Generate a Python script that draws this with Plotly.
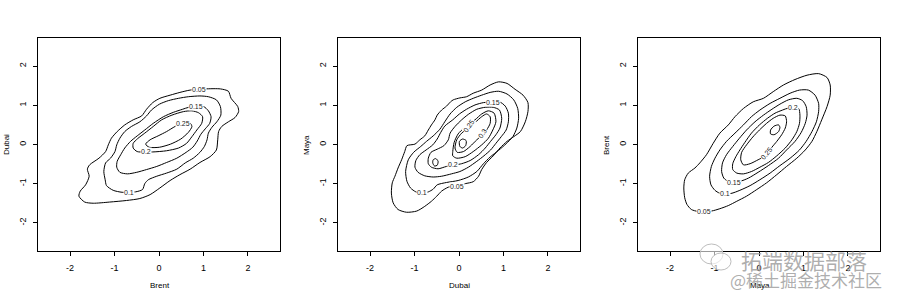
import plotly.graph_objects as go

# ---------------- data ----------------
x_titles = ["Brent", "Dubai", "Maya"]
y_titles = ["Dubai", "Maya", "Brent"]
tick_vals = [-2, -1, 0, 1, 2]
tick_text = ["-2", "-1", "0", "1", "2"]

# Panel 1: Brent (x) vs Dubai (y) -- density contour lines
p1_c005 = [(0.70, 1.39), (1.04, 1.42), (1.38, 1.42), (1.56, 1.36), (1.62, 1.18), (1.77, 0.97),
           (1.79, 0.84), (1.71, 0.69), (1.56, 0.58), (1.41, 0.46), (1.34, 0.33), (1.32, 0.12),
           (1.29, -0.14), (1.15, -0.31), (0.92, -0.46), (0.70, -0.63), (0.47, -0.77), (0.25, -0.92),
           (0.02, -1.11), (-0.20, -1.28), (-0.43, -1.38), (-0.73, -1.43), (-1.11, -1.47),
           (-1.48, -1.50), (-1.67, -1.47), (-1.80, -1.32), (-1.77, -1.19), (-1.65, -1.03),
           (-1.57, -0.81), (-1.61, -0.63), (-1.56, -0.52), (-1.35, -0.35), (-1.20, -0.18),
           (-1.14, -0.01), (-1.07, 0.16), (-0.94, 0.33), (-0.77, 0.50), (-0.58, 0.63), (-0.39, 0.73),
           (-0.28, 0.90), (-0.14, 1.07), (0.02, 1.18), (0.25, 1.26), (0.47, 1.33)]
p1_c010 = [(-0.53, -1.21), (-0.37, -1.15), (-0.32, -1.00), (-0.24, -0.90), (-0.05, -0.81),
           (0.17, -0.73), (0.40, -0.63), (0.59, -0.47), (0.77, -0.35), (0.92, -0.20), (1.02, -0.05),
           (1.08, 0.12), (1.11, 0.29), (1.19, 0.44), (1.30, 0.58), (1.39, 0.75), (1.38, 0.97),
           (1.29, 1.14), (1.11, 1.22), (0.92, 1.24), (0.66, 1.22), (0.44, 1.18), (0.21, 1.12),
           (0.01, 1.03), (-0.17, 0.88), (-0.28, 0.73), (-0.43, 0.58), (-0.62, 0.46), (-0.77, 0.33),
           (-0.88, 0.16), (-0.95, -0.01), (-0.99, -0.18), (-1.09, -0.35), (-1.20, -0.47),
           (-1.24, -0.69), (-1.21, -0.90), (-1.18, -1.05), (-1.03, -1.17), (-0.83, -1.22)]
p1_c015 = [(1.00, 0.97), (1.11, 0.86), (1.17, 0.71), (1.14, 0.54), (1.04, 0.40), (0.94, 0.26),
           (0.86, 0.09), (0.76, -0.07), (0.61, -0.20), (0.40, -0.35), (0.17, -0.46), (-0.05, -0.56),
           (-0.28, -0.64), (-0.50, -0.71), (-0.71, -0.75), (-0.88, -0.71), (-0.95, -0.58),
           (-0.94, -0.43), (-0.86, -0.26), (-0.77, -0.09), (-0.64, 0.08), (-0.49, 0.22),
           (-0.32, 0.37), (-0.13, 0.54), (0.10, 0.71), (0.32, 0.82), (0.53, 0.90), (0.67, 0.95)]
p1_c020 = [(-0.14, -0.19), (0.17, -0.16), (0.44, -0.09), (0.62, 0.03), (0.74, 0.20), (0.85, 0.37),
           (0.96, 0.54), (0.98, 0.71), (0.89, 0.81), (0.74, 0.86), (0.55, 0.84), (0.29, 0.75),
           (0.06, 0.63), (-0.13, 0.46), (-0.32, 0.29), (-0.48, 0.15), (-0.58, 0.03), (-0.58, -0.09),
           (-0.49, -0.18)]
p1_c025 = [(0.68, 0.57), (0.74, 0.46), (0.66, 0.31), (0.49, 0.14), (0.26, 0.01), (0.01, -0.07),
           (-0.22, -0.07), (-0.30, 0.01), (-0.20, 0.12), (-0.02, 0.22), (0.17, 0.33), (0.36, 0.46),
           (0.53, 0.55)]
p1_labels = [("0.05", 0.89, 1.40, 0), ("0.1", -0.68, -1.22, 0), ("0.15", 0.83, 0.97, 0),
             ("0.2", -0.30, -0.19, 0), ("0.25", 0.53, 0.54, 0)]

# Panel 2: Dubai (x) vs Maya (y)
p2_c005 = [(-0.13, 1.14), (0.02, 1.19), (0.17, 1.22), (0.32, 1.31), (0.51, 1.39), (0.70, 1.52),
           (0.89, 1.60), (1.08, 1.56), (1.26, 1.41), (1.44, 1.26), (1.55, 1.07), (1.55, 0.84),
           (1.49, 0.58), (1.38, 0.33), (1.23, 0.20), (1.08, 0.08), (0.92, -0.09), (0.77, -0.29),
           (0.62, -0.46), (0.51, -0.64), (0.44, -0.81), (0.32, -0.95), (0.14, -1.00), (-0.04, -1.05),
           (-0.24, -1.09), (-0.39, -1.19), (-0.50, -1.32), (-0.62, -1.45), (-0.77, -1.58),
           (-0.95, -1.70), (-1.18, -1.73), (-1.37, -1.66), (-1.48, -1.49), (-1.52, -1.24),
           (-1.50, -0.98), (-1.44, -0.81), (-1.37, -0.60), (-1.29, -0.39), (-1.22, -0.18),
           (-1.17, -0.03), (-0.99, 0.01), (-0.88, 0.12), (-0.77, 0.22), (-0.69, 0.37), (-0.62, 0.50),
           (-0.54, 0.63), (-0.49, 0.75), (-0.39, 0.88), (-0.28, 0.98), (-0.19, 1.09)]
p2_c010 = [(-0.69, -1.21), (-0.58, -1.14), (-0.49, -1.03), (-0.28, -0.97), (-0.02, -0.92),
           (0.21, -0.83), (0.40, -0.69), (0.55, -0.49), (0.70, -0.32), (0.89, -0.15), (1.06, 0.02),
           (1.21, 0.20), (1.30, 0.42), (1.34, 0.67), (1.32, 0.92), (1.23, 1.14), (1.08, 1.29),
           (0.89, 1.36), (0.70, 1.33), (0.51, 1.26), (0.32, 1.18), (0.14, 1.09), (-0.05, 0.95),
           (-0.20, 0.78), (-0.32, 0.58), (-0.43, 0.39), (-0.58, 0.22), (-0.73, 0.08), (-0.86, -0.05),
           (-1.02, -0.20), (-1.14, -0.39), (-1.20, -0.69), (-1.17, -0.94), (-1.09, -1.11),
           (-0.97, -1.21), (-0.83, -1.24)]
p2_c015 = [(0.91, 1.09), (1.04, 0.98), (1.11, 0.80), (1.11, 0.58), (1.06, 0.37), (0.95, 0.20),
           (0.83, 0.03), (0.71, -0.14), (0.56, -0.29), (0.40, -0.43), (0.21, -0.58), (0.02, -0.69),
           (-0.17, -0.75), (-0.39, -0.81), (-0.58, -0.83), (-0.77, -0.80), (-0.92, -0.71),
           (-0.99, -0.58), (-0.97, -0.41), (-0.88, -0.26), (-0.74, -0.14), (-0.59, -0.01),
           (-0.49, 0.14), (-0.41, 0.31), (-0.32, 0.47), (-0.14, 0.63), (0.01, 0.78), (0.17, 0.90),
           (0.36, 1.01), (0.55, 1.07), (0.66, 1.08)]
p2_c020 = [(0.06, -0.49), (0.25, -0.41), (0.44, -0.26), (0.59, -0.09), (0.71, 0.08), (0.83, 0.25),
           (0.92, 0.42), (0.96, 0.67), (0.91, 0.88), (0.77, 0.95), (0.59, 0.95), (0.40, 0.90),
           (0.21, 0.77), (0.06, 0.63), (-0.09, 0.46), (-0.20, 0.29), (-0.24, 0.12), (-0.34, -0.03),
           (-0.49, -0.12), (-0.63, -0.20), (-0.69, -0.35), (-0.69, -0.49), (-0.62, -0.58),
           (-0.47, -0.62), (-0.28, -0.56)]
p2_c025 = [(-0.14, -0.18), (-0.11, 0.05), (-0.02, 0.27), (0.11, 0.42), (0.36, 0.63), (0.51, 0.78),
           (0.66, 0.86), (0.79, 0.80), (0.83, 0.58), (0.76, 0.37), (0.66, 0.16), (0.51, -0.01),
           (0.32, -0.18), (0.14, -0.31), (-0.05, -0.35), (-0.14, -0.29)]
p2_c025b = [(-0.59, -0.47), (-0.58, -0.39), (-0.52, -0.36), (-0.47, -0.43), (-0.49, -0.53),
            (-0.55, -0.55)]
p2_c030 = [(-0.09, -0.09), (-0.05, 0.12), (0.06, 0.29), (0.21, 0.42), (0.36, 0.56), (0.51, 0.71),
           (0.62, 0.78), (0.70, 0.71), (0.70, 0.54), (0.62, 0.37), (0.53, 0.25), (0.40, 0.12),
           (0.25, -0.05), (0.10, -0.18), (-0.04, -0.20)]
p2_c035 = [(0.02, -0.05), (0.01, 0.08), (0.08, 0.14), (0.16, 0.10), (0.15, -0.03), (0.08, -0.09)]
p2_labels = [("0.05", -0.04, -1.07, 0), ("0.1", -0.83, -1.22, 0), ("0.15", 0.76, 1.08, 0),
             ("0.2", -0.13, -0.52, 0), ("0.25", 0.23, 0.48, -55), ("0.3", 0.53, 0.27, -55)]

# Panel 3: Maya (x) vs Brent (y)
p3_c005 = [(-1.07, -1.70), (-0.88, -1.64), (-0.69, -1.56), (-0.50, -1.45), (-0.28, -1.32),
           (-0.05, -1.15), (0.17, -0.98), (0.40, -0.77), (0.62, -0.56), (0.85, -0.35), (1.04, -0.14),
           (1.19, 0.08), (1.30, 0.33), (1.41, 0.63), (1.53, 0.97), (1.60, 1.26), (1.60, 1.52),
           (1.53, 1.71), (1.34, 1.81), (1.08, 1.77), (0.81, 1.66), (0.55, 1.52), (0.32, 1.35),
           (0.10, 1.18), (-0.13, 1.09), (-0.35, 0.92), (-0.54, 0.71), (-0.69, 0.50), (-0.88, 0.29),
           (-1.03, 0.03), (-1.18, -0.26), (-1.33, -0.47), (-1.44, -0.60), (-1.59, -0.73),
           (-1.67, -0.90), (-1.69, -1.11), (-1.67, -1.36), (-1.62, -1.53), (-1.52, -1.66),
           (-1.37, -1.71)]
p3_c010 = [(-0.63, -1.25), (-0.43, -1.17), (-0.20, -1.05), (0.02, -0.90), (0.25, -0.73),
           (0.47, -0.54), (0.70, -0.35), (0.91, -0.14), (1.06, 0.08), (1.19, 0.33), (1.29, 0.58),
           (1.34, 0.84), (1.34, 1.05), (1.26, 1.26), (1.11, 1.39), (0.91, 1.39), (0.70, 1.31),
           (0.47, 1.18), (0.25, 1.05), (0.02, 0.88), (-0.17, 0.71), (-0.35, 0.50), (-0.54, 0.29),
           (-0.73, 0.08), (-0.88, -0.14), (-0.99, -0.35), (-1.07, -0.56), (-1.11, -0.81),
           (-1.08, -1.03), (-0.99, -1.17), (-0.89, -1.24)]
p3_c015 = [(-0.43, -0.94), (-0.24, -0.86), (-0.02, -0.71), (0.21, -0.54), (0.44, -0.35),
           (0.62, -0.14), (0.81, 0.08), (0.95, 0.31), (1.04, 0.54), (1.08, 0.75), (1.06, 0.97),
           (0.98, 1.12), (0.85, 1.18), (0.66, 1.14), (0.47, 1.03), (0.29, 0.90), (0.10, 0.75),
           (-0.09, 0.58), (-0.28, 0.37), (-0.44, 0.16), (-0.59, -0.05), (-0.73, -0.26),
           (-0.82, -0.47), (-0.84, -0.69), (-0.79, -0.86), (-0.69, -0.94)]
p3_c020 = [(0.89, 0.92), (0.92, 0.75), (0.91, 0.54), (0.85, 0.33), (0.74, 0.12), (0.59, -0.09),
           (0.40, -0.29), (0.21, -0.46), (0.02, -0.58), (-0.17, -0.69), (-0.35, -0.75),
           (-0.50, -0.73), (-0.59, -0.64), (-0.59, -0.49), (-0.52, -0.31), (-0.43, -0.14),
           (-0.32, 0.05), (-0.17, 0.29), (0.01, 0.50), (0.19, 0.67), (0.36, 0.80), (0.53, 0.88),
           (0.66, 0.93)]
p3_c025 = [(0.29, -0.07), (0.40, 0.08), (0.51, 0.25), (0.59, 0.42), (0.62, 0.58), (0.59, 0.73),
           (0.47, 0.75), (0.32, 0.67), (0.17, 0.54), (0.01, 0.37), (-0.14, 0.19), (-0.28, -0.01),
           (-0.39, -0.20), (-0.41, -0.39), (-0.35, -0.52), (-0.20, -0.49), (-0.02, -0.39),
           (0.14, -0.29)]
p3_c030 = [(0.26, 0.27), (0.26, 0.37), (0.34, 0.47), (0.44, 0.50), (0.47, 0.44), (0.44, 0.33),
           (0.34, 0.25)]
p3_labels = [("0.05", -1.23, -1.70, 0), ("0.1", -0.77, -1.26, 0), ("0.15", -0.56, -0.97, 0),
             ("0.2", 0.77, 0.95, 0), ("0.25", 0.17, -0.24, -50)]

panels = [
    [p1_c005, p1_c010, p1_c015, p1_c020, p1_c025],
    [p2_c005, p2_c010, p2_c015, p2_c020, p2_c025, p2_c025b, p2_c030, p2_c035],
    [p3_c005, p3_c010, p3_c015, p3_c020, p3_c025, p3_c030],
]
panel_labels = [p1_labels, p2_labels, p3_labels]

# ---------------- figure ----------------
W, H = 900, 300
FONT = "Arial, Liberation Sans, sans-serif"
fig = go.Figure()

box_left_px = [38, 338, 638]
box_w_px = 242
box_top_px, box_bot_px = 38, 251

annotations = []
for i, loops in enumerate(panels):
    sfx = "" if i == 0 else str(i + 1)
    xa, ya = "x" + sfx, "y" + sfx
    for loop in loops:
        xs = [p[0] for p in loop] + [loop[0][0]]
        ys = [p[1] for p in loop] + [loop[0][1]]
        fig.add_trace(go.Scatter(x=xs, y=ys, mode="lines",
                                 line=dict(color="black", width=1, shape="spline", smoothing=0.7),
                                 xaxis=xa, yaxis=ya, showlegend=False, hoverinfo="skip"))
    for txt, lx, ly, ang in panel_labels[i]:
        annotations.append(dict(text=txt, x=lx, y=ly, xref=xa, yref=ya, showarrow=False,
                                xanchor="center", yanchor="middle",
                                textangle=ang, bgcolor="white", borderpad=0,
                                font=dict(family=FONT, size=7, color="#222222")))
    x0 = box_left_px[i] / W
    x1 = (box_left_px[i] + box_w_px) / W
    axis_common = dict(range=[-2.72, 2.72], tickvals=tick_vals, ticktext=tick_text,
                       ticks="outside", ticklen=4, tickwidth=1, tickcolor="black",
                       showline=True, linecolor="black", linewidth=1, mirror=True,
                       showgrid=False, zeroline=False, fixedrange=True,
                       tickfont=dict(family=FONT, size=9, color="black"))
    fig.update_layout(**{
        "xaxis" + sfx: dict(domain=[x0, x1], anchor=ya, ticklabelstandoff=4, **axis_common),
        "yaxis" + sfx: dict(domain=[1 - box_bot_px / H, 1 - box_top_px / H], anchor=xa,
                            tickangle=-90, ticklabelstandoff=3, **axis_common),
    })
    # axis titles
    annotations.append(dict(text=x_titles[i], x=(box_left_px[i] + box_w_px / 2 + 1) / W,
                            y=1 - 285 / H, xref="paper", yref="paper", showarrow=False,
                            xanchor="center", yanchor="middle",
                            font=dict(family=FONT, size=8, color="black")))
    annotations.append(dict(text=y_titles[i], x=(6 + 300 * i) / W, y=1 - 145 / H,
                            xref="paper", yref="paper", showarrow=False, textangle=-90,
                            xanchor="center", yanchor="middle",
                            font=dict(family=FONT, size=8, color="black")))

# watermark
shapes = [
    dict(type="circle", xref="paper", yref="paper", x0=700 / W, x1=723 / W,
         y0=1 - 264 / H, y1=1 - 244 / H, line=dict(color="#bdbdbd", width=1),
         fillcolor="rgba(255,255,255,0.6)"),
    dict(type="circle", xref="paper", yref="paper", x0=711 / W, x1=731 / W,
         y0=1 - 270 / H, y1=1 - 253 / H, line=dict(color="#bdbdbd", width=1),
         fillcolor="rgba(255,255,255,0.6)"),
]
annotations.append(dict(text="拓端数据部落", x=804 / W, y=1 - 260 / H, xref="paper", yref="paper",
                        showarrow=False, xanchor="center", yanchor="middle",
                        font=dict(family="Noto Sans CJK SC", size=21, color="rgba(160,160,160,0.85)")))
annotations.append(dict(text="@稀土掘金技术社区", x=806 / W, y=1 - 279 / H, xref="paper",
                        yref="paper", showarrow=False, xanchor="center", yanchor="middle",
                        font=dict(family="Noto Sans CJK SC", size=17, color="rgba(160,160,160,0.85)")))

fig.update_layout(width=W, height=H, margin=dict(l=0, r=0, t=0, b=0),
                  paper_bgcolor="white", plot_bgcolor="white",
                  annotations=annotations, shapes=shapes, showlegend=False)

fig.write_html("out.html")
